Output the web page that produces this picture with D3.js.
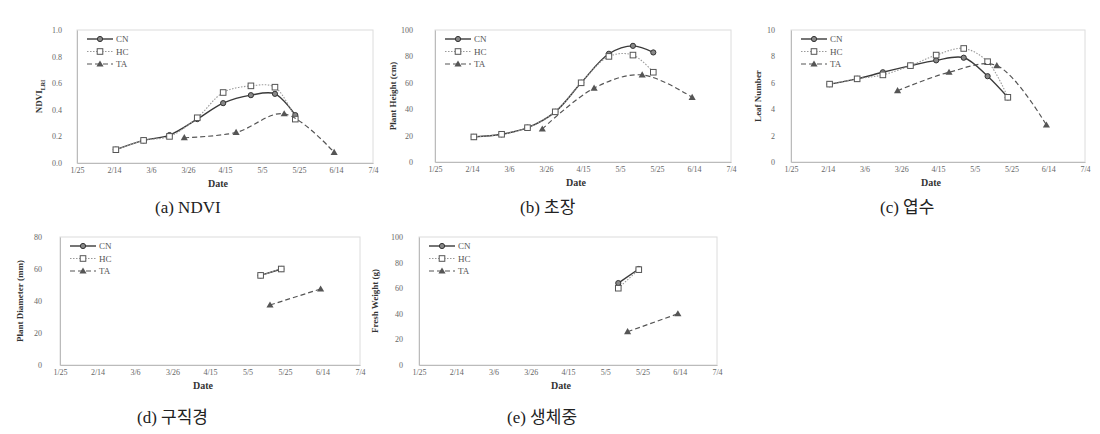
<!DOCTYPE html>
<html>
<head>
<meta charset="utf-8">
<script src="https://cdn.jsdelivr.net/npm/d3@7"></script>
<style>
  body { margin: 0; background: #fff; }
  svg { display: block; }
  .tick text { font-family: "Liberation Serif", serif; font-size: 8px; fill: #666; }
</style>
</head>
<body>
<div id="chart"></div>
<script>
// measurement dates (m/d)
const cnDates = ["2/15", "3/2", "3/16", "3/31", "4/14", "4/29", "5/12", "5/23"];
const taDates = ["3/24", "4/21", "5/17", "6/13"];
const cnLateDates = ["5/12", "5/23"];
const taLateDates = ["5/17", "6/13"];
const tickDates = ["1/25", "2/14", "3/6", "3/26", "4/15", "5/5", "5/25", "6/14", "7/4"];

// (a) NDVI
const ndviCN = [0.10, 0.17, 0.21, 0.33, 0.45, 0.51, 0.52, 0.36];
const ndviHC = [0.10, 0.17, 0.20, 0.34, 0.53, 0.58, 0.57, 0.33];
const ndviTA = [0.19, 0.23, 0.37, 0.08];
// (b) plant height
const heightCN = [19, 21, 26, 38, 60, 82, 88, 83];
const heightHC = [19, 21, 26, 38, 60, 80, 81, 68];
const heightTA = [25, 56, 66, 49];
// (c) leaf number
const leafCN = [5.9, 6.3, 6.8, 7.3, 7.7, 7.9, 6.5, 4.9];
const leafHC = [5.9, 6.3, 6.6, 7.3, 8.1, 8.6, 7.6, 4.9];
const leafTA = [5.4, 6.8, 7.3, 2.8];
// (d) plant diameter
const diamCN = [56, 60];
const diamHC = [56, 60];
const diamTA = [37.5, 47.5];
// (e) fresh weight
const weightCN = [64, 75];
const weightHC = [60, 74.5];
const weightTA = [26, 40];

const seriesNames = ["CN", "HC", "TA"];

const parseDate = s => d3.timeParse("%m/%d/%Y")(s + "/2015");

const svg = d3.select("#chart").append("svg")
  .attr("width", 1100)
  .attr("height", 434);

const styles = {
  CN: { color: "#3a3a3a", width: 1.4, dash: null },
  HC: { color: "#9a9a9a", width: 1.1, dash: "1.5,1.5" },
  TA: { color: "#555", width: 1.2, dash: "5,3" }
};

function marker(g, name, x, y) {
  if (name === "CN") {
    g.append("circle").attr("cx", x).attr("cy", y).attr("r", 2.6)
      .attr("fill", "#888").attr("stroke", "#333").attr("stroke-width", 1);
  } else if (name === "HC") {
    g.append("rect").attr("x", x - 2.8).attr("y", y - 2.8).attr("width", 5.6).attr("height", 5.6)
      .attr("fill", "#fff").attr("stroke", "#555").attr("stroke-width", 1);
  } else {
    g.append("path").attr("d", d3.symbol(d3.symbolTriangle, 22)())
      .attr("transform", "translate(" + x + "," + (y + 0.5) + ")")
      .attr("fill", "#555");
  }
}

function drawPanel(p) {
  const x = d3.scaleTime()
    .domain([parseDate("1/25"), parseDate("7/4")])
    .range([p.left, p.right]);
  const y = d3.scaleLinear()
    .domain([0, p.yMax])
    .range([p.bottom, p.top]);

  const g = svg.append("g");

  g.append("rect")
    .attr("x", p.left).attr("y", p.top)
    .attr("width", p.right - p.left).attr("height", p.bottom - p.top)
    .attr("fill", "none").attr("stroke", "#dcdcdc").attr("stroke-width", 1);

  const xAxis = g.append("g")
    .attr("transform", "translate(0," + p.bottom + ")")
    .attr("color", "#777")
    .call(d3.axisBottom(x).tickValues(tickDates.map(parseDate))
      .tickFormat(d3.timeFormat("%-m/%-d")).tickSize(0).tickPadding(4));
  xAxis.select(".domain").attr("stroke", "#bbb");

  const yAxis = g.append("g")
    .attr("transform", "translate(" + p.left + ",0)")
    .attr("color", "#777")
    .call(d3.axisLeft(y).tickValues(d3.range(0, p.yMax + p.step / 2, p.step))
      .tickFormat(p.fmt).tickSize(0).tickPadding(p.pad));
  yAxis.select(".domain").attr("stroke", "#bbb");

  g.append("text")
    .attr("x", (p.left + p.right) / 2 - 7)
    .attr("y", p.bottom + 24)
    .attr("text-anchor", "middle")
    .attr("font-family", "'Liberation Serif', serif")
    .attr("font-weight", "bold")
    .attr("font-size", 10)
    .attr("fill", "#333")
    .text("Date");

  const yl = g.append("text")
    .attr("transform", "translate(" + p.ylX + "," + (p.top + p.bottom) / 2 + ") rotate(-90)")
    .attr("text-anchor", "middle")
    .attr("font-family", "'Liberation Serif', serif")
    .attr("font-weight", "bold")
    .attr("font-size", 9)
    .attr("fill", "#333")
    .text(p.yLabel);
  if (p.ySub) {
    yl.append("tspan").attr("font-size", 6).attr("dy", 3).text(p.ySub);
  }

  const line = d3.line()
    .x(d => x(d[0]))
    .y(d => y(d[1]))
    .curve(d3.curveCatmullRom.alpha(0.5));

  seriesNames.forEach(name => {
    const s = p.series[name];
    const pts = s.dates.map((d, i) => [parseDate(d), s.values[i]]);
    const st = styles[name];
    g.append("path")
      .datum(pts)
      .attr("d", line)
      .attr("fill", "none")
      .attr("stroke", st.color)
      .attr("stroke-width", st.width)
      .attr("stroke-dasharray", st.dash);
    pts.forEach(d => marker(g, name, x(d[0]), y(d[1])));
  });

  // legend
  seriesNames.forEach((name, i) => {
    const ly = p.top + 9 + i * 12.5;
    const st = styles[name];
    g.append("line")
      .attr("x1", p.left + 10).attr("x2", p.left + 36)
      .attr("y1", ly).attr("y2", ly)
      .attr("stroke", st.color).attr("stroke-width", st.width)
      .attr("stroke-dasharray", st.dash);
    marker(g, name, p.left + 23, ly);
    g.append("text")
      .attr("x", p.left + 39).attr("y", ly + 3)
      .attr("font-family", "'Liberation Serif', serif")
      .attr("font-size", 9).attr("fill", "#555")
      .text(name);
  });

  svg.append("text")
    .attr("x", p.capX).attr("y", p.capY)
    .attr("font-family", "'Liberation Serif', 'Noto Sans CJK KR', serif")
    .attr("font-size", 17).attr("fill", "#222")
    .text(p.caption);
}

const f1 = d3.format(".1f"), f0 = d3.format("d");

drawPanel({
  left: 77, right: 373, top: 30, bottom: 163, yMax: 1.0, step: 0.2, fmt: f1, pad: 15,
  yLabel: "NDVI", ySub: "LRI", ylX: 42, caption: "(a) NDVI", capX: 155, capY: 213,
  series: {
    CN: { dates: cnDates, values: ndviCN },
    HC: { dates: cnDates, values: ndviHC },
    TA: { dates: taDates, values: ndviTA }
  }
});
drawPanel({
  left: 435, right: 731, top: 30, bottom: 162, yMax: 100, step: 20, fmt: f0, pad: 22,
  yLabel: "Plant Height (cm)", ylX: 396, caption: "(b) 초장", capX: 520, capY: 213,
  series: {
    CN: { dates: cnDates, values: heightCN },
    HC: { dates: cnDates, values: heightHC },
    TA: { dates: taDates, values: heightTA }
  }
});
drawPanel({
  left: 791, right: 1085, top: 30, bottom: 162, yMax: 10, step: 2, fmt: f0, pad: 16,
  yLabel: "Leaf Number", ylX: 761, caption: "(c) 엽수", capX: 880, capY: 213,
  series: {
    CN: { dates: cnDates, values: leafCN },
    HC: { dates: cnDates, values: leafHC },
    TA: { dates: taDates, values: leafTA }
  }
});
drawPanel({
  left: 60, right: 360, top: 237, bottom: 365, yMax: 80, step: 20, fmt: f0, pad: 18,
  yLabel: "Plant Diameter (mm)", ylX: 23, caption: "(d) 구직경", capX: 137, capY: 423,
  series: {
    CN: { dates: cnLateDates, values: diamCN },
    HC: { dates: cnLateDates, values: diamHC },
    TA: { dates: taLateDates, values: diamTA }
  }
});
drawPanel({
  left: 419, right: 717, top: 237, bottom: 365, yMax: 100, step: 20, fmt: f0, pad: 16,
  yLabel: "Fresh Weight (g)", ylX: 378, caption: "(e) 생체중", capX: 507, capY: 423,
  series: {
    CN: { dates: cnLateDates, values: weightCN },
    HC: { dates: cnLateDates, values: weightHC },
    TA: { dates: taLateDates, values: weightTA }
  }
});
</script>
</body>
</html>
